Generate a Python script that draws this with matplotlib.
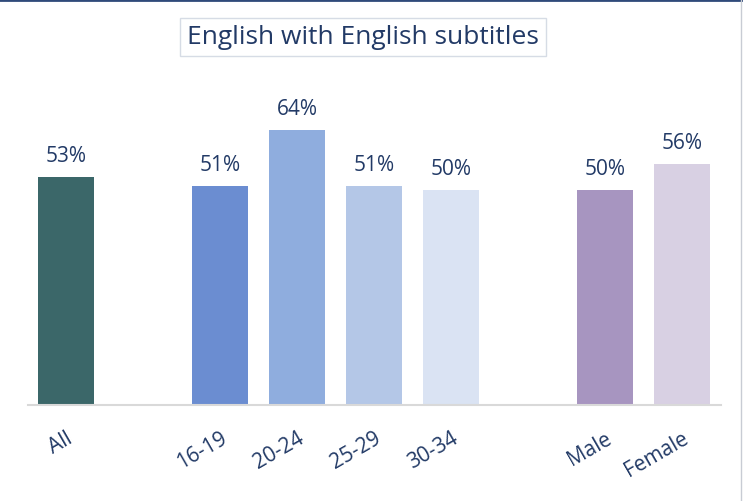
import matplotlib.pyplot as plt
from matplotlib.lines import Line2D

categories = ["All", "16-19", "20-24", "25-29", "30-34", "Male", "Female"]
values = [53, 51, 64, 51, 50, 50, 56]
slots = [0, 2, 3, 4, 5, 7, 8]
colors = ["#3B6769", "#6B8DD1", "#8FADDE", "#B4C7E7", "#DAE3F3", "#A795C0", "#D8D0E3"]

navy = "#223A66"
plt.rcParams['font.family'] = ['Open Sans', 'DejaVu Sans']

fig = plt.figure(figsize=(7.43, 5.02), dpi=100)
ax = fig.add_axes([27.5 / 743, (502 - 406) / 502, (720.5 - 27.5) / 743, 301 / 502])

bars = ax.bar(slots, values, width=0.73, color=colors)
for b, v in zip(bars, values):
    ax.annotate(f"{v}%", (b.get_x() + b.get_width() / 2, v), xytext=(0, 8),
                textcoords="offset points", ha="center", va="bottom",
                fontsize=15, color=navy)

ax.set_xlim(-0.5, 8.5)
ax.set_ylim(0, 70)
ax.set_xticks(slots)
ax.set_xticklabels(categories, rotation=30, ha="right", rotation_mode="anchor",
                   fontsize=15, color=navy)
ax.tick_params(axis="x", length=0, pad=16)
ax.set_yticks([])
for s in ["top", "right", "left"]:
    ax.spines[s].set_visible(False)
ax.spines["bottom"].set_color("#D9D9D9")
ax.spines["bottom"].set_linewidth(1.5)

fig.text(363 / 743, 1 - 38 / 502, "English with English subtitles", ha="center",
         va="center", fontsize=19, color=navy,
         bbox=dict(boxstyle="square,pad=0.25", fc="white", ec="#D6DCE5", lw=1))

# frame lines along the top and right edge
fig.add_artist(Line2D([0, 1], [0.998, 0.998], transform=fig.transFigure,
                      color="#2F4A7A", lw=2))
fig.add_artist(Line2D([741 / 743, 741 / 743], [0, 1], transform=fig.transFigure,
                      color="#C8CCD4", lw=1))

fig.savefig("out.png", dpi=100)
